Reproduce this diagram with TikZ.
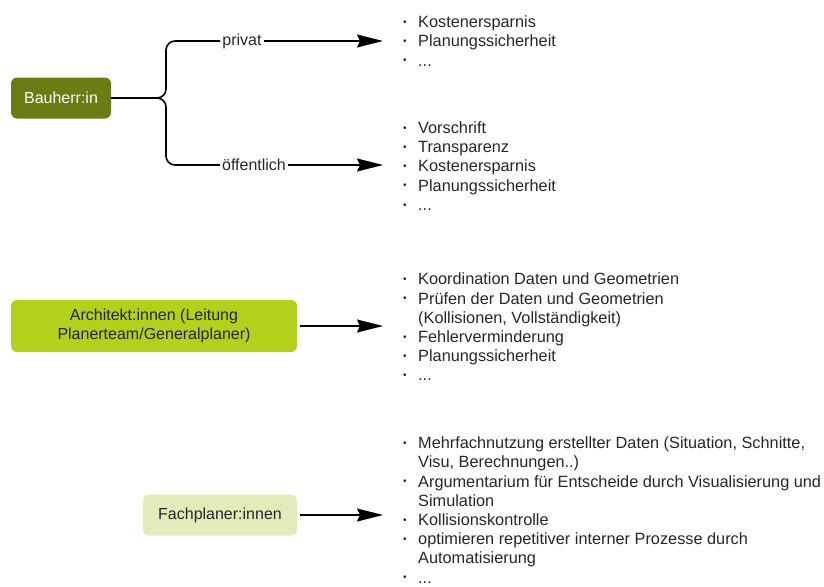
\documentclass[tikz,border=0pt]{standalone}
\usepackage{fontspec}
\setmainfont{Liberation Sans}
\usetikzlibrary{arrows.meta}

\definecolor{bauolive}{HTML}{6C7B14}
\definecolor{archlime}{HTML}{B3D01D}
\definecolor{fachpale}{HTML}{E2EBBA}
\definecolor{txtgray}{HTML}{262626}

% bullet with fixed indent
\newcommand{\itm}{\makebox[15pt][l]{\raisebox{0.25ex}{\fontsize{10}{10}\selectfont\textbullet}}}
\newcommand{\cont}{\hspace*{15pt}}

\tikzset{
  rolebox/.style={rounded corners=6pt, align=center, font=\fontsize{16}{19}\selectfont, text=txtgray},
  itemlist/.style={anchor=west, align=left, inner xsep=20pt, inner ysep=0pt,
    font=\fontsize{16.3}{19.2}\selectfont, text=txtgray},
  branch/.style={line width=1.6pt, rounded corners=9pt},
  flow/.style={line width=1.4pt, -{Stealth[length=26pt,width=13pt,inset=3pt]}},
  tag/.style={inner sep=2pt, font=\fontsize{16}{19}\selectfont, text=txtgray}
}

\begin{document}
\begin{tikzpicture}[x=1pt,y=-1pt]
    \useasboundingbox (0,0) rectangle (824,586);

    % Bauherr:in
    \node[rolebox, fill=bauolive, text=white, minimum width=100pt, minimum height=41pt] (bau) at (61,98) {Bauherr:in};
    \node[tag] (privat) at (242,41) {privat};
    \node[tag] (oeff) at (254,165) {öffentlich};
    \coordinate (fork) at (166,98);

    \draw[branch] (bau.east) -- (fork) |- (privat.west);
    \draw[branch] (bau.east) -- (fork) |- (oeff.west);

    \node[itemlist] (privlist) at (383,41) {\itm Kostenersparnis\\ \itm Planungssicherheit\\ \itm ...};
    \node[itemlist] (oefflist) at (383,166) {\itm Vorschrift\\ \itm Transparenz\\ \itm Kostenersparnis\\ \itm Planungssicherheit\\ \itm ...};

    \draw[flow] (privat.east) -- (privat.east -| privlist.west);
    \draw[flow] (oeff.east) -- (oeff.east -| oefflist.west);

    % Architekt:innen
    \node[rolebox, fill=archlime, minimum width=286pt, minimum height=52pt] (arch) at (154,326) {Architekt:innen (Leitung\\ Planerteam/Generalplaner)};
    \node[itemlist] (archlist) at (383,327) {\itm Koordination Daten und Geometrien\\
      \itm Prüfen der Daten und Geometrien\\
      \cont(Kollisionen, Vollständigkeit)\\
      \itm Fehlerverminderung\\
      \itm Planungssicherheit\\
      \itm ...};
    \draw[flow] ([xshift=3pt]arch.east) -- (arch.east -| archlist.west);

    % Fachplaner:innen
    \node[rolebox, fill=fachpale, minimum width=154pt, minimum height=41pt] (fach) at (220,515) {Fachplaner:innen};
    \node[itemlist] (fachlist) at (383,510) {\itm Mehrfachnutzung erstellter Daten (Situation, Schnitte,\\
      \cont Visu, Berechnungen..)\\
      \itm Argumentarium für Entscheide durch Visualisierung und\\
      \cont Simulation\\
      \itm Kollisionskontrolle\\
      \itm optimieren repetitiver interner Prozesse durch\\
      \cont Automatisierung\\
      \itm ...};
    \draw[flow] ([xshift=3pt]fach.east) -- (fach.east -| fachlist.west);
\end{tikzpicture}
\end{document}
